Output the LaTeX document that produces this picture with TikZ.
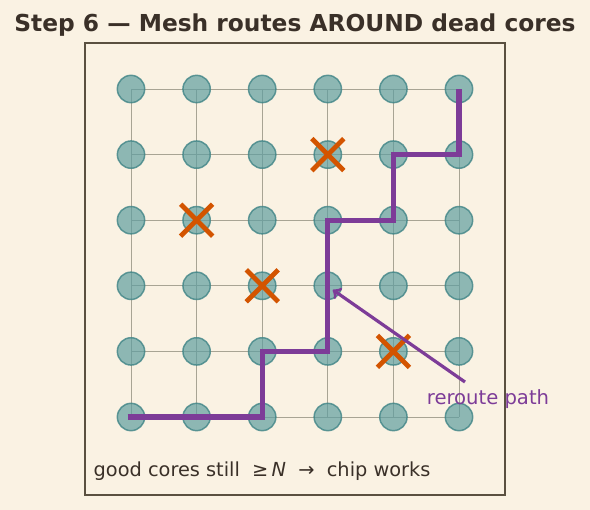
\documentclass[tikz,border=0pt]{standalone}
\usepackage{fontspec}
\setmainfont{DejaVu Sans}
\definecolor{paper}{HTML}{FAF2E3}
\definecolor{ink}{HTML}{3A3028}
\definecolor{framec}{HTML}{5A5040}
\definecolor{gridc}{HTML}{A8A494}
\definecolor{corefill}{HTML}{5F9EA0}
\definecolor{coreedge}{HTML}{3F8486}
\definecolor{deadc}{HTML}{D35400}
\definecolor{routec}{HTML}{7D3C98}
\begin{document}
\begin{tikzpicture}[x=0.75pt,y=-0.75pt,
    core/.style={circle, draw=coreedge, fill=corefill, fill opacity=0.7, draw opacity=0.8, minimum size=20.5pt, inner sep=0pt, line width=1.1pt},
    dead/.style={draw=deadc, line width=3.6pt},
    route/.style={draw=routec, line width=3.8pt},
    note/.style={text=routec, font=\fontsize{14.7}{17}\selectfont}]
	\fill[paper] (0,0) rectangle (590,510);
	\useasboundingbox (0,0) rectangle (590,510);
	\node (title) [text=ink, font=\bfseries\fontsize{17.5}{21}\selectfont] at (295,25) {Step 6 — Mesh routes AROUND dead cores};
	\draw[framec, line width=1.1pt] (85,43) rectangle (505,495);
	
	% grid points
	\foreach \i in {0,...,5}
		\foreach \j in {0,...,5}
			\coordinate (p-\i-\j) at (131+65.6*\i, 89+65.6*\j);
	\foreach \k in {0,...,5} {
		\draw[gridc, line width=0.7pt] (p-0-\k) -- (p-5-\k);
		\draw[gridc, line width=0.7pt] (p-\k-0) -- (p-\k-5);
	}
	\foreach \i in {0,...,5}
		\foreach \j in {0,...,5}
			\node (c-\i-\j) [core] at (p-\i-\j) {};
	
	% dead cores
	\foreach \i/\j in {3/1, 1/2, 2/3, 4/4} {
		\draw[dead] ([shift={(-16,-16)}]p-\i-\j) -- ([shift={(16,16)}]p-\i-\j);
		\draw[dead] ([shift={(-16,16)}]p-\i-\j) -- ([shift={(16,-16)}]p-\i-\j);
	}
	
	% detour
	\draw[route] ([xshift=-2.5pt]p-0-5) -- (p-2-5) -- (p-2-4) -- (p-3-4) -- (p-3-2) -- (p-4-2) -- (p-4-1) -- (p-5-1) -- (p-5-0);
	
	\node (lbl) [note] at (488,399) {reroute path};
	\coordinate (tail) at (465,382);
	\draw[->, routec, line width=2.4pt] (tail) -- ([shift={(5,4)}]c-3-3.center);
	
	\node (foot) [anchor=west, text=ink, font=\fontsize{14.5}{17}\selectfont] at (89,471) {good cores still \ ≥\,{\itshape N} \ → \ chip works};
\end{tikzpicture}
\end{document}
